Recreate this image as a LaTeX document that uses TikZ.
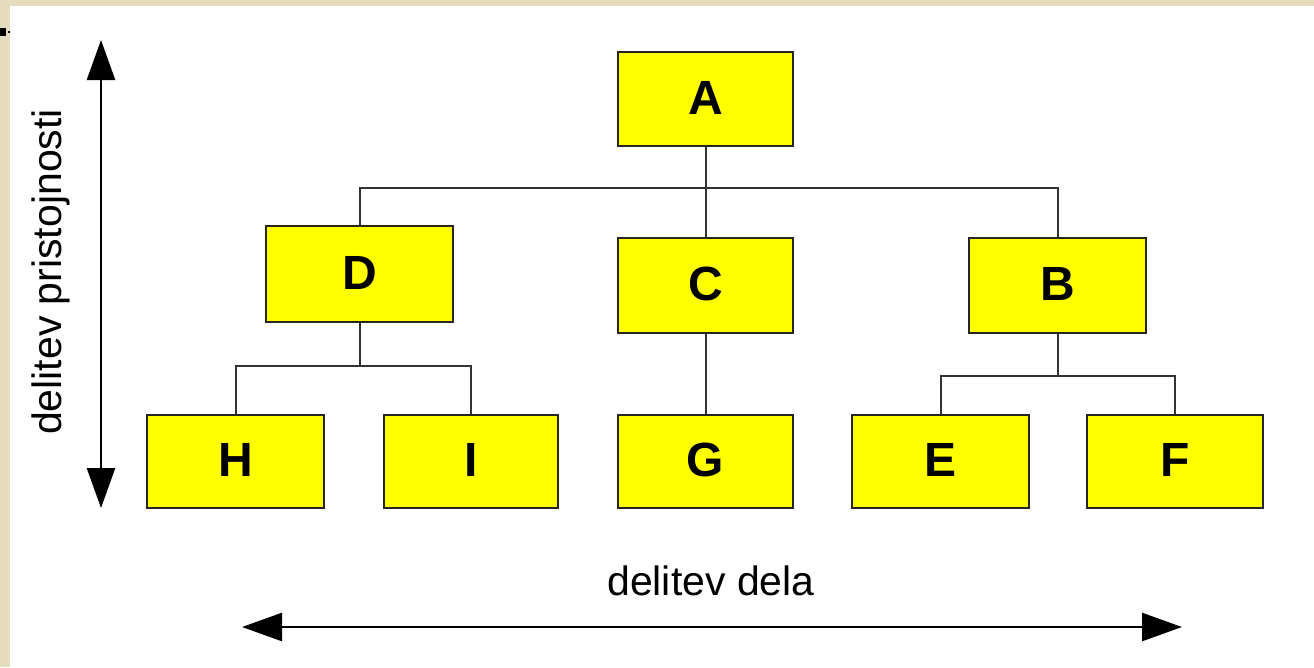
\documentclass[tikz,border=0pt]{standalone}
\usepackage{fontspec}
\setmainfont{Liberation Sans}
\usetikzlibrary{arrows.meta}
\definecolor{beige}{RGB}{228,220,188}
\definecolor{boxyellow}{RGB}{255,255,0}
\tikzset{
  box/.style={draw=black!85, line width=2pt, fill=boxyellow, rectangle, inner sep=0pt,
    font=\fontsize{48}{48}\selectfont\bfseries, text depth=3pt},
  conn/.style={draw=black!80, line width=2pt},
  dblarrow/.style={line width=2.6pt, {Triangle[length=40pt,width=28pt]}-{Triangle[length=40pt,width=28pt]}},
  lbl/.style={font=\fontsize{41}{41}\selectfont, inner sep=0pt}
}
\begin{document}
\begin{tikzpicture}[x=1pt,y=-1pt]
\useasboundingbox (0,0) rectangle (1314,667);
\fill[beige] (0,0) rectangle (1314,667);
\fill[white] (10,6) rectangle (1314,667);
\fill[black] (0,28) rectangle (6,36);
\fill[black] (8,31) rectangle (9.5,32.5);

\node[box, minimum width=175pt, minimum height=94pt] (A) at (705.5,99) {A};
\node[box, minimum width=187pt, minimum height=96pt] (D) at (359.5,274) {D};
\node[box, minimum width=175pt, minimum height=95pt] (C) at (705.5,285.5) {C};
\node[box, minimum width=177pt, minimum height=95pt] (B) at (1057.5,285.5) {B};
\node[box, minimum width=177pt, minimum height=93pt] (H) at (235.5,461.5) {H};
\node[box, minimum width=174pt, minimum height=93pt] (I) at (471,461.5) {I};
\node[box, minimum width=175pt, minimum height=93pt] (G) at (705.5,461.5) {G};
\node[box, minimum width=177pt, minimum height=93pt] (E) at (940.5,461.5) {E};
\node[box, minimum width=176pt, minimum height=93pt] (F) at (1175,461.5) {F};

\coordinate (j1) at (705.5,188);
\coordinate (j2) at (359.5,366);
\coordinate (j3) at (1057.5,376);
\draw[conn] (A.south) -- (j1);
\draw[conn] (D.north) -- (D.north |- j1) -| (B.north);
\draw[conn] (j1) -- (C.north);
\draw[conn] (D.south) -- (j2);
\draw[conn] (H.north) -- (H.north |- j2) -| (I.north);
\draw[conn] (C.south) -- (G.north);
\draw[conn] (B.south) -- (j3);
\draw[conn] (E.north) -- (E.north |- j3) -| (F.north);

\coordinate (vt) at (101,40);
\coordinate (vb) at (101,508);
\coordinate (hl) at (242,627);
\coordinate (hr) at (1182,627);
\draw[dblarrow] (vt) -- (vb);
\draw[dblarrow] (hl) -- (hr);

\node[lbl, rotate=90, anchor=base] (lv) at (61,272) {delitev pristojnosti};
\node[lbl, anchor=base] (lh) at (711,595) {delitev dela};
\end{tikzpicture}
\end{document}
